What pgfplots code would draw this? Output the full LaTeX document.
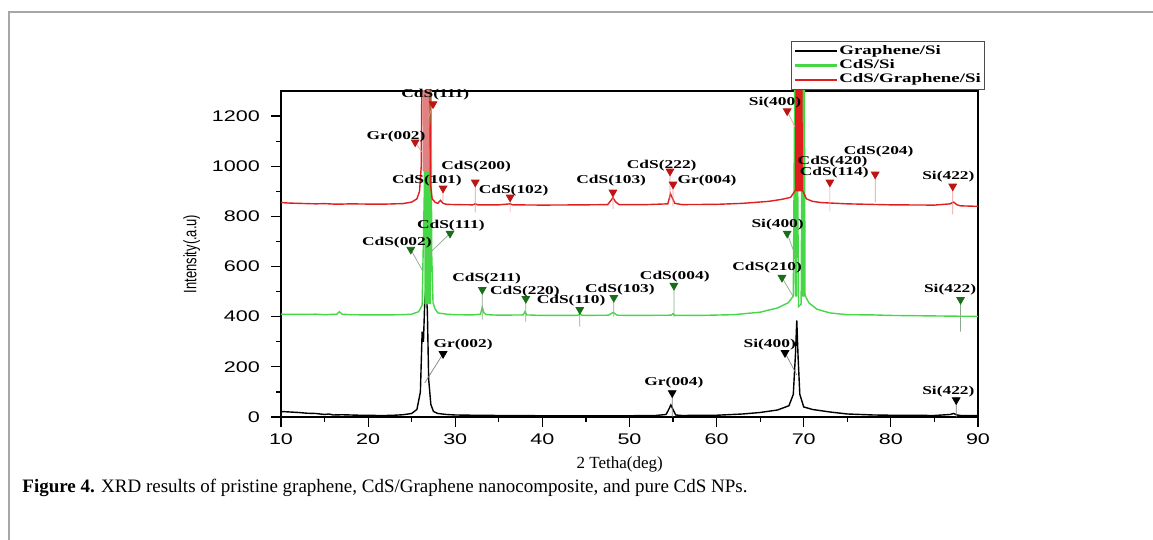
\documentclass[border=0pt]{standalone}
\usepackage{fontspec}
\setmainfont{Liberation Serif}
\newfontfamily\tickfont[FakeStretch=1.4]{Liberation Sans}
\newfontfamily\ylabfont[FakeStretch=0.72]{Liberation Sans}
\newfontfamily\labfont[FakeStretch=1.45]{Liberation Serif}
\usepackage{pgfplots}
\pgfplotsset{compat=1.18}

\definecolor{gline}{RGB}{70,215,70}
\definecolor{rline}{RGB}{225,30,30}
\definecolor{rpink}{RGB}{225,130,130}
\definecolor{rtri}{RGB}{190,20,20}
\definecolor{gtri}{RGB}{25,110,25}
\definecolor{rlead}{RGB}{235,150,150}
\definecolor{glead}{RGB}{140,170,140}

\tikzset{lab/.style={font=\labfont\bfseries\fontsize{6}{6}\selectfont, inner sep=0pt}}

\begin{document}
\begin{tikzpicture}
\useasboundingbox (-140.5pt,-61.5pt) rectangle (436pt,208.5pt);
\draw[gray!70, line width=0.8pt] (-136pt,-61.5pt) -- (-136pt,202.5pt) -- (436pt,202.5pt);
\node[anchor=base west, font=\fontsize{9.5}{10}\selectfont, inner sep=0pt] at (-129.5pt,-38pt)
  {\textbf{Figure 4.} XRD results of pristine graphene, CdS/Graphene nanocomposite, and pure CdS NPs.};

\begin{axis}[
  at={(0pt,0pt)}, anchor=south west,
  scale only axis, width=348.5pt, height=163pt,
  xmin=10, xmax=90, ymin=0, ymax=1300,
  xtick={10,20,...,90}, ytick={0,200,...,1200},
  minor x tick num=1, minor y tick num=1,
  tick align=outside, xtick pos=bottom, ytick pos=left,
  major tick length=5pt, minor tick length=2.5pt,
  every tick/.style={black, line width=0.6pt},
  axis line style={line width=0.9pt},
  ticklabel style={font=\tickfont\fontsize{7.7}{8}\selectfont},
  yticklabel style={xshift=-2pt},
  /pgf/number format/assume math mode=true,
  /pgf/number format/1000 sep={},
  xlabel={2 Tetha(deg)}, ylabel={Intensity(.a.u)},
  xlabel style={font=\fontsize{8.5}{9}\selectfont, at={(axis description cs:0.486,-0.147)}, anchor=center},
  ylabel style={font=\ylabfont\fontsize{9}{9}\selectfont, at={(axis description cs:-0.128,0.5)}, anchor=center},
  clip mode=individual,
  unbounded coords=jump,
  legend style={at={(axis description cs:1.01,1.153)}, anchor=north east,
    draw=gray!60!black, line width=0.6pt,
    font=\labfont\bfseries\fontsize{6.5}{6.5}\selectfont,
    inner sep=1pt, row sep=-0.5pt, nodes={inner sep=0.8pt}},
  legend image code/.code={\draw[#1, line width=1.1pt] (0pt,0pt) -- (21pt,0pt);},
  legend cell align=left,
]

% Graphene/Si
\addplot[black, line width=0.7pt] coordinates {
(10,22)(11,20)(12,18)(13,15)(14,14)(15,10)(15.5,12)(16,8)(17,9)(18,8)(19,7)(20,7)
(21,6)(22,6)(23,7)(24,9)(25,14)(25.6,30)(26.0,100)(26.2,340)(26.35,300)(26.5,460)
(26.65,520)(26.8,420)(26.95,150)(27.2,50)(27.5,22)(28,14)(29,10)(30,8)(32,7)(35,6)
(40,5)(45,5)(50,5)(53,6)(54.2,10)(54.5,30)(54.75,48)(55.0,30)(55.3,8)(56,6)(60,7)
(63,12)(65,18)(67,28)(68.3,45)(68.8,90)(69.05,250)(69.2,385)(69.35,240)(69.55,90)
(70,40)(71,30)(73,20)(75,12)(78,8)(80,7)(85,6)(86.8,10)(87.2,14)(87.6,8)(88,6)(90,6)
};
\addlegendentry{Graphene/Si}

% CdS/Si
\addplot[gline, line width=0.7pt] coordinates {
(10,410)(12,409)(14,410)(15,408)(16.4,410)(16.7,420)(17,410)(18,408)(20,407)(22,407)
(24,408)(25,410)(25.8,420)(26.2,445)(26.45,900)(26.5,1500)(26.55,450)(26.6,1500)
(26.65,450)(26.7,1500)(26.75,450)(26.8,1500)(26.85,450)(26.9,1500)(26.95,450)
(27.0,1500)(27.05,450)(27.1,1500)(27.15,450)(27.2,1500)(27.3,650)(27.45,455)(27.7,430)
(28,415)(29,410)(30,408)(32,407)(32.9,410)(33.1,438)(33.3,415)(33.6,408)(35,406)
(37.8,407)(38.0,420)(38.2,407)(40,405)(44,405)(44.3,410)(44.6,405)(47.6,406)(48.1,417)
(48.6,406)(50,405)(54.8,406)(55.0,412)(55.2,405)(58,405)(62,408)(65,418)(67,435)
(68.2,455)(68.8,482)(69.0,1500)(69.05,480)(69.1,1500)(69.15,480)(69.2,1500)(69.4,440)
(69.7,450)(69.85,1500)(69.9,480)(69.95,1500)(70.0,480)(70.05,1500)(70.15,484)(70.6,455)
(71.5,430)(73,415)(75,408)(78,407)(80,405)(85,403)(90,401)
};
\addlegendentry{CdS/Si}

% CdS/Graphene/Si
\addplot[rline, line width=0.7pt] coordinates {
(10,855)(11,853)(12,852)(13,851)(14,850)(15,851)(16,849)(17,849)(18,850)(20,849)
(22,849)(24,851)(25,857)(25.6,870)(25.9,900)(26.1,1000)(26.2,1500)(27.05,1500)
(27.15,930)(27.35,870)
(27.7,856)(28.0,852)(28.3,864)(28.6,852)(29,848)(30,847)(32,846)(32.3,850)(32.6,846)
(35,846)(36.3,850)(36.6,846)(40,845)(45,846)(47.5,847)(47.9,865)(48.1,875)(48.4,858)
(48.8,847)(52,847)(54.4,850)(54.7,890)(54.9,875)(55.2,852)(56,847)(60,848)(63,852)
(66,860)(67.5,868)(68.5,876)(69.05,905)(69.15,1500)(69.2,900)(69.25,1500)(69.3,900)
(69.35,1500)(69.4,900)(69.45,1500)(69.5,900)(69.55,1500)(69.6,900)(69.65,1500)
(69.7,900)(69.75,1500)(69.85,905)(70.3,870)(71,860)(72,855)(75,850)(80,846)(85,845)
(86.8,850)(87.2,857)(87.6,846)(88,842)(90,840)
};
\addlegendentry{CdS/Graphene/Si}

% pinkish inside of the main CdS/Graphene/Si peak
\addplot[rpink, line width=0.6pt, forget plot] coordinates {
(26.28,1500)(26.33,980)(26.38,1500)(26.43,980)(26.48,1500)(26.53,980)(26.58,1500)
(26.63,980)(26.68,1500)(26.73,980)(26.78,1500)(26.83,980)(26.88,1500)(26.93,980)
(26.98,1500)
};

% leader lines
\addplot[rlead, line width=0.35pt, forget plot] coordinates {
(27.45,1248)(26.9,1190)(26.9,nan)
(25.4,1096)(26.2,1056)(26.2,nan)
(32.3,936)(32.3,816)(32.3,nan)
(28.6,912)(28.6,862)(28.6,nan)
(36.3,876)(36.3,816)(36.3,nan)
(48.1,896)(48.1,830)(48.1,nan)
(54.65,980)(54.65,868)(54.65,nan)
(55.0,928)(55.0,840)(55.0,nan)
(68.1,1220)(69.0,1156)(69.0,nan)
(73.0,936)(73.0,820)(73.0,nan)
(78.2,968)(78.2,856)(78.2,nan)
(87.1,920)(87.1,808)
};
\addplot[glead, line width=0.35pt, forget plot] coordinates {
(29.4,732)(26.9,648)(26.9,nan)
(24.9,668)(26.3,580)(26.3,nan)
(33.1,508)(33.1,388)(33.1,nan)
(38.1,472)(38.1,380)(38.1,nan)
(44.3,428)(44.3,360)(44.3,nan)
(48.2,476)(48.2,400)(48.2,nan)
(55.1,524)(55.1,398)(55.1,nan)
(67.5,556)(68.8,480)(68.8,nan)
(68.1,732)(69.2,628)(69.2,nan)
(88.0,468)(88.0,340)
};
\addplot[gray, line width=0.35pt, forget plot] coordinates {
(28.6,252)(26.5,136)(26.5,nan)
(54.9,96)(54.9,0)(54.9,nan)
(67.85,256)(69.2,168)(69.2,nan)
(87.5,68)(87.5,0)
};

% markers
\addplot[only marks, mark=triangle*, mark size=2.2pt, color=rtri, mark options={rotate=180}, forget plot] coordinates {
(27.45,1248)(25.4,1096)(32.3,936)(28.6,912)(36.3,876)(48.1,896)(54.65,980)(55.0,928)
(68.1,1220)(73.0,936)(78.2,968)(87.1,920)
};
\addplot[only marks, mark=triangle*, mark size=2.2pt, color=gtri, mark options={rotate=180}, forget plot] coordinates {
(29.4,732)(24.9,668)(33.1,508)(38.1,472)(44.3,428)(48.2,476)(55.1,524)(67.5,556)
(68.1,732)(88.0,468)
};
\addplot[only marks, mark=triangle*, mark size=2.2pt, color=black, mark options={rotate=180}, forget plot] coordinates {
(28.6,252)(54.9,96)(67.85,256)(87.5,68)
};

% labels, red series
\node[lab] at (axis cs:27.7,1284) {CdS(111)};
\node[lab] at (axis cs:23.2,1120) {Gr(002)};
\node[lab] at (axis cs:32.4,1000) {CdS(200)};
\node[lab] at (axis cs:26.75,944) {CdS(101)};
\node[lab] at (axis cs:36.7,904) {CdS(102)};
\node[lab] at (axis cs:47.9,944) {CdS(103)};
\node[lab] at (axis cs:53.7,1004) {CdS(222)};
\node[lab] at (axis cs:58.9,944) {Gr(004)};
\node[lab] at (axis cs:66.7,1252) {Si(400)};
\node[lab] at (axis cs:73.3,1020) {CdS(420)};
\node[lab] at (axis cs:73.5,976) {CdS(114)};
\node[lab] at (axis cs:78.6,1060) {CdS(204)};
\node[lab] at (axis cs:86.6,960) {Si(422)};
% labels, green series
\node[lab] at (axis cs:29.5,764) {CdS(111)};
\node[lab] at (axis cs:23.3,696) {CdS(002)};
\node[lab] at (axis cs:33.6,552) {CdS(211)};
\node[lab] at (axis cs:38.0,500) {CdS(220)};
\node[lab] at (axis cs:43.3,464) {CdS(110)};
\node[lab] at (axis cs:48.9,508) {CdS(103)};
\node[lab] at (axis cs:55.2,560) {CdS(004)};
\node[lab] at (axis cs:65.8,596) {CdS(210)};
\node[lab] at (axis cs:67.0,768) {Si(400)};
\node[lab] at (axis cs:86.8,508) {Si(422)};
% labels, black series
\node[lab] at (axis cs:30.9,288) {Gr(002)};
\node[lab] at (axis cs:55.1,136) {Gr(004)};
\node[lab] at (axis cs:66.1,288) {Si(400)};
\node[lab] at (axis cs:86.6,100) {Si(422)};
\end{axis}
\end{tikzpicture}
\end{document}
